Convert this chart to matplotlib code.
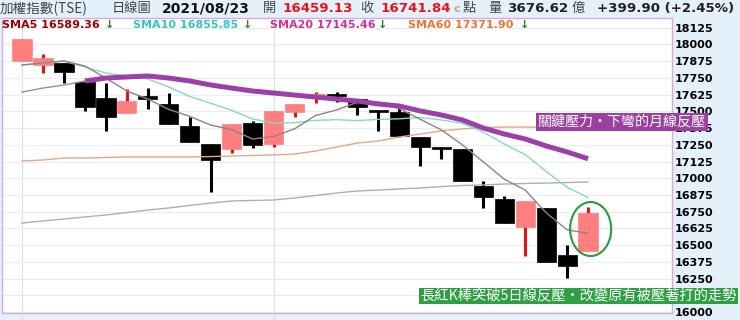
import matplotlib
matplotlib.use("Agg")
import matplotlib.pyplot as plt
from matplotlib.patches import Rectangle, Ellipse

plt.rcParams['font.family'] = ['DejaVu Sans', 'Noto Sans CJK TC']

# daily candles (last 28 sessions)
opens  = [17875, 17845, 17860, 17718, 17599, 17487, 17605, 17554, 17390, 17256,
          17218, 17412, 17256, 17494, 17599, 17624, 17591, 17505, 17494, 17308,
          17228, 17218, 16942, 16845, 16636, 16778, 16427, 16459.13]
highs  = [18040, 17927, 17860, 17718, 17711, 17666, 17674, 17636, 17457, 17256,
          17405, 17427, 17502, 17554, 17644, 17644, 17591, 17505, 17524, 17308,
          17228, 17218, 16980, 16868, 16830, 16778, 16502, 16785]
lows   = [17875, 17785, 17711, 17502, 17353, 17487, 17517, 17405, 17271, 16897,
          17188, 17226, 17233, 17457, 17562, 17569, 17472, 17353, 17308, 17091,
          17144, 16980, 16778, 16666, 16420, 16375, 16255, 16459]
closes = [18039, 17897, 17793, 17532, 17457, 17576, 17599, 17405, 17271, 17136,
          17405, 17248, 17502, 17554, 17629, 17618, 17532, 17500, 17315, 17233,
          17224, 16980, 16860, 16666, 16830, 16375, 16342, 16741.84]

# moving averages read at each candle
sma5  = [17845, 17860, 17875, 17838, 17748, 17651, 17591, 17514, 17462, 17397,
         17363, 17293, 17312, 17369, 17468, 17510, 17567, 17567, 17519, 17440,
         17361, 17250, 17122, 16993, 16912, 16742, 16615, 16589.36]
sma10 = [17845, 17860, 17875, 17830, 17785, 17763, 17741, 17681, 17610, 17560,
         17507, 17442, 17413, 17415, 17432, 17437, 17430, 17439, 17444, 17453,
         17435, 17409, 17344, 17256, 17176, 17051, 16932, 16855.85]
sma20 = [17643, 17673, 17696, 17726, 17748, 17756, 17763, 17748, 17726, 17696,
         17673, 17651, 17636, 17621, 17606, 17591, 17576, 17554, 17539, 17502,
         17472, 17435, 17375, 17330, 17293, 17241, 17196, 17145.46]
sma60 = [17129, 17136, 17151, 17151, 17155, 17159, 17159, 17159, 17159, 17162,
         17166, 17170, 17174, 17181, 17203, 17233, 17263, 17278, 17308, 17330,
         17353, 17368, 17379, 17382, 17382, 17379, 17375, 17371.90]
sma_long = [16666, 16681, 16696, 16711, 16726, 16744, 16763, 16778, 16797, 16815,
            16830, 16834, 16838, 16853, 16871, 16890, 16905, 16912, 16920, 16927,
            16938, 16946, 16950, 16957, 16961, 16964, 16968, 16972]

yticks = list(range(16000, 18126, 125))
month_starts = [0, 12]

W, H = 740, 320
fig = plt.figure(figsize=(7.4, 3.2), dpi=100, facecolor='#e4f1fb')
ax = fig.add_axes([2/W, 1-313/H, 670/W, 295/H])
ax.set_facecolor('white')

idx = list(range(len(closes)))

# candles
for i in idx:
    o, h, l, c = opens[i], highs[i], lows[i], closes[i]
    up = c > o
    body_col = '#ff7f7f' if up else 'black'
    wick_col = '#e01414' if up else 'black'
    ax.vlines(i, l, h, color=wick_col, lw=2.2, zorder=2)
    bot = min(o, c)
    hgt = abs(c - o)
    if hgt < 20:
        bot = (o + c) / 2 - 10
        hgt = 20
    ax.add_patch(Rectangle((i - 0.46, bot), 0.92, hgt, facecolor=body_col,
                           edgecolor=body_col, lw=0.5, zorder=3))

# moving averages
ax.plot(idx, sma_long, color='#b4acac', lw=1, zorder=4)
ax.plot(idx, sma60, color='#e2a888', lw=1, zorder=4)
ax.plot(idx[:4], sma20[:4], color='#a88898', lw=1, zorder=4)
ax.plot(idx[3:], sma20[3:], color='#9b40a8', lw=3.6, zorder=5, solid_capstyle='butt')
ax.plot(idx, sma10, color='#84d8c8', lw=1, zorder=4)
ax.plot(idx, sma5, color='#978080', lw=1, zorder=4)

ax.add_patch(Ellipse((27.12, 16621), 1.96, 403, fill=False,
                     edgecolor='#2a9a3a', lw=1.5, zorder=6))

ax.set_xlim(-0.954, 31.0)
ax.set_ylim(15994.4, 18195.9)
ax.set_xticks([])
ax.yaxis.tick_right()
ax.set_yticks(yticks)
ax.set_yticklabels([str(v) for v in yticks], fontsize=8, fontweight='bold')
ax.tick_params(axis='y', length=0, pad=2)
ax.grid(axis='y', color='#ececec', lw=0.8)
for m in month_starts:
    ax.axvline(m, ymin=-0.03, ymax=1, color='#d4e2ea', lw=0.8, clip_on=False, zorder=1)
for s in ax.spines.values():
    s.set_color('#dba8e2')
    s.set_linewidth(1)

# header line
hy = 1 - 8.5/H
cjk = ['Noto Sans CJK TC', 'DejaVu Sans']
fig.text(0/W, hy, '加權指數(TSE)', family=cjk, fontsize=9.8, color='#444', va='center')
fig.text(112/W, hy, '日線圖', family=cjk, fontsize=9.5, color='#444', va='center')
fig.text(162/W, hy, '2021/08/23', fontsize=10, fontweight='bold', color='#111', va='center')
fig.text(263/W, hy, '開', family=cjk, fontsize=9.5, color='#444', va='center')
fig.text(282/W, hy, '16459.13', fontsize=9.6, fontweight='bold', color='#e8141e', va='center')
fig.text(360/W, hy, '收', family=cjk, fontsize=9.5, color='#444', va='center')
fig.text(380/W, hy, '16741.84', fontsize=9.6, fontweight='bold', color='#e8141e', va='center')
fig.text(453/W, hy, 'c', fontsize=8, fontweight='bold', color='#c8a878', va='center')
fig.text(463/W, hy, '點', family=cjk, fontsize=9.5, color='#444', va='center')
fig.text(488/W, hy, '量', family=cjk, fontsize=9.5, color='#444', va='center')
fig.text(507/W, hy, '3676.62', fontsize=9.6, fontweight='bold', color='#222', va='center')
fig.text(572/W, hy, '億', family=cjk, fontsize=9.5, color='#444', va='center')
fig.text(597/W, hy, '+399.90 (+2.45%)', fontsize=9.6, fontweight='bold', color='#222', va='center')

# SMA legend
ly = 1 - 25/H
legend = [(2, 'SMA5 16589.36', '#990000', 105),
          (133, 'SMA10 16855.85', '#33c6c6', 243),
          (270, 'SMA20 17145.46', '#d0309a', 378),
          (408, 'SMA60 17371.90', '#e87830', 520)]
for x, txt, col, ax_x in legend:
    fig.text(x/W, ly, txt, fontsize=8, fontweight='bold', color=col, va='center')
    fig.text(ax_x/W, ly, '↓', fontsize=8, fontweight='bold', color='#1e8a1e', va='center')

# annotation boxes
fig.text(538/W, 1 - 122/H, '關鍵壓力・下彎的月線反壓', family=cjk, fontsize=10.1,
         color='white', va='center',
         bbox=dict(boxstyle='square,pad=0.15', fc='#9b40a0', ec='none'))
fig.text(420/W, 1 - 296/H, '長紅K棒突破5日線反壓・改變原有被壓著打的走勢', family=cjk,
         fontsize=10.3, color='white', va='center',
         bbox=dict(boxstyle='square,pad=0.1', fc='#2ea043', ec='none'))

fig.savefig('out.png', dpi=100, facecolor=fig.get_facecolor())
